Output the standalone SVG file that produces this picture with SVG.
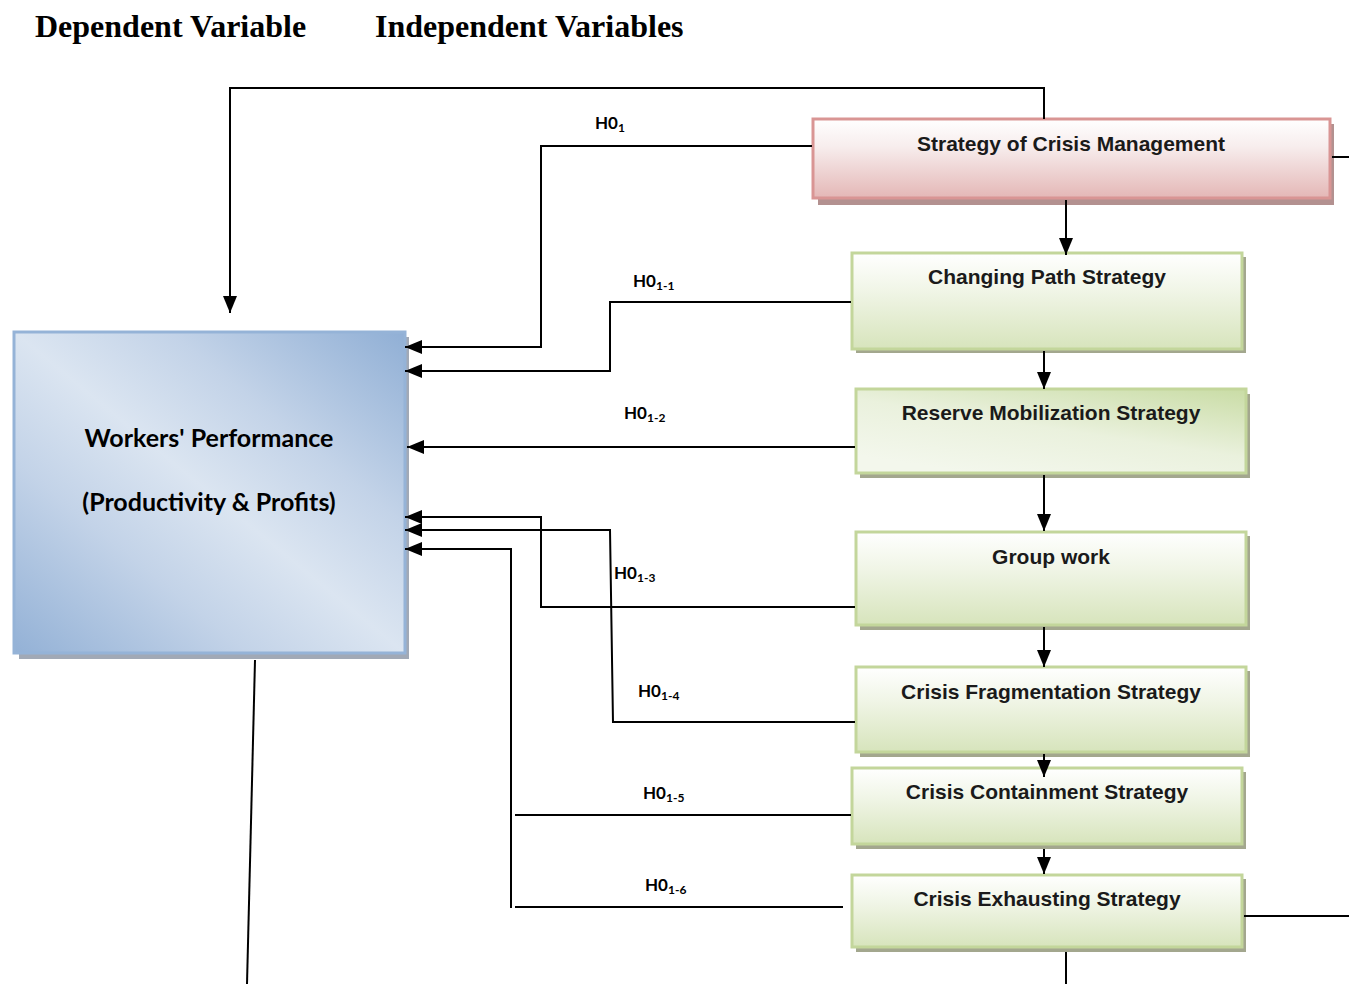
<svg xmlns="http://www.w3.org/2000/svg" width="1349" height="984" viewBox="0 0 1349 984">
<style>
.hdr{font-family:"Liberation Serif","Times New Roman",serif;font-weight:bold;font-size:32px;fill:#000}
.bx{font-family:"Liberation Sans",Arial,sans-serif;font-weight:bold;font-size:21px;fill:#1a1a1a;text-anchor:middle}
.main{font-family:Lato,"Liberation Sans",sans-serif;font-weight:bold;font-size:25px;fill:#000;text-anchor:middle}
.h{font-family:Lato,"Liberation Sans",sans-serif;font-weight:bold;font-size:17px;fill:#000}
.sub{font-size:12px}
.ln{fill:none;stroke:#000;stroke-width:2}
.shadow{fill:#a3a78e}
.gbox{stroke:#c3d69b;stroke-width:3}
</style>
<defs>
<marker id="ah" markerUnits="userSpaceOnUse" markerWidth="18" markerHeight="18" viewBox="0 0 18 18" refX="17" refY="9" orient="auto">
<path d="M0,2 L17,9 L0,16 Z" fill="#000"/>
</marker>
<linearGradient id="gRed" x1="0" y1="0" x2="0" y2="1">
<stop offset="0" stop-color="#ffffff"/>
<stop offset="0.35" stop-color="#f7eded"/>
<stop offset="1" stop-color="#e4b7b6"/>
</linearGradient>
<linearGradient id="gGreen" x1="0" y1="0" x2="0" y2="1">
<stop offset="0" stop-color="#ffffff"/>
<stop offset="0.4" stop-color="#f0f5e6"/>
<stop offset="1" stop-color="#d7e4bc"/>
</linearGradient>
<linearGradient id="gGreen2" x1="1" y1="0" x2="0.3" y2="1">
<stop offset="0" stop-color="#c9dca5"/>
<stop offset="0.55" stop-color="#eaf1dd"/>
<stop offset="1" stop-color="#f3f7ec"/>
</linearGradient>
<linearGradient id="gBlue" x1="0" y1="1" x2="1" y2="0">
<stop offset="0" stop-color="#93b1d6"/>
<stop offset="0.3" stop-color="#c3d3e8"/>
<stop offset="0.5" stop-color="#dbe5f1"/>
<stop offset="0.7" stop-color="#c3d3e8"/>
<stop offset="1" stop-color="#90afd5"/>
</linearGradient>
</defs>
<rect width="1349" height="984" fill="#fff"/>

<text class="hdr" x="35" y="37">Dependent Variable</text>
<text class="hdr" x="375" y="37">Independent Variables</text>

<g id="workers">
<rect x="19" y="337" width="390" height="322" fill="#a1a9b6"/>
<rect x="14" y="332" width="391" height="321" fill="url(#gBlue)" stroke="#95b3d7" stroke-width="3"/>
<text class="main" x="209" y="447">Workers' Performance</text>
<text class="main" x="209" y="511">(Productivity &amp; Profits)</text>
</g>

<g id="strategy">
<rect x="818" y="124" width="516" height="81" fill="#b39190"/>
<rect x="813" y="119" width="517" height="79" fill="url(#gRed)" stroke="#d99594" stroke-width="3"/>
<text class="bx" x="1071" y="151">Strategy of Crisis Management</text>
</g>

<g id="changing">
<rect x="856" y="257" width="390" height="96" class="shadow"/>
<rect x="852" y="253" width="390" height="96" fill="url(#gGreen)" class="gbox"/>
<text class="bx" x="1047" y="284">Changing Path Strategy</text>
</g>

<g id="reserve">
<rect x="860" y="394" width="390" height="84" class="shadow"/>
<rect x="856" y="389" width="390" height="84" fill="url(#gGreen2)" class="gbox"/>
<text class="bx" x="1051" y="420">Reserve Mobilization Strategy</text>
</g>

<g id="group">
<rect x="860" y="536" width="390" height="94" class="shadow"/>
<rect x="856" y="532" width="390" height="93" fill="url(#gGreen)" class="gbox"/>
<text class="bx" x="1051" y="564">Group work</text>
</g>

<g id="fragmentation">
<rect x="860" y="671" width="390" height="86" class="shadow"/>
<rect x="856" y="667" width="390" height="85" fill="url(#gGreen)" class="gbox"/>
<text class="bx" x="1051" y="699">Crisis Fragmentation Strategy</text>
</g>

<g id="containment">
<rect x="856" y="772" width="390" height="77" class="shadow"/>
<rect x="852" y="768" width="390" height="76" fill="url(#gGreen)" class="gbox"/>
<text class="bx" x="1047" y="799">Crisis Containment Strategy</text>
</g>

<g id="exhausting">
<rect x="856" y="879" width="390" height="73" class="shadow"/>
<rect x="852" y="875" width="390" height="72" fill="url(#gGreen)" class="gbox"/>
<text class="bx" x="1047" y="906">Crisis Exhausting Strategy</text>
</g>

<g id="connectors">
<polyline class="ln" points="1044,119 1044,88 230,88 230,313" marker-end="url(#ah)"/>
<line class="ln" x1="1332" y1="157" x2="1349" y2="157"/>
<polyline class="ln" points="812,146 541,146 541,347 405,347" marker-end="url(#ah)"/>
<line class="ln" x1="1066" y1="200" x2="1066" y2="255" marker-end="url(#ah)"/>
<polyline class="ln" points="851,302 610,302 610,371 405,371" marker-end="url(#ah)"/>
<line class="ln" x1="1044" y1="351" x2="1044" y2="389" marker-end="url(#ah)"/>
<line class="ln" x1="855" y1="447" x2="407" y2="447" marker-end="url(#ah)"/>
<line class="ln" x1="1044" y1="475" x2="1044" y2="531" marker-end="url(#ah)"/>
<polyline class="ln" points="855,607 541,607 541,517 405,517" marker-end="url(#ah)"/>
<line class="ln" x1="1044" y1="627" x2="1044" y2="667" marker-end="url(#ah)"/>
<polyline class="ln" points="855,722 613,722 610,530 405,530" marker-end="url(#ah)"/>
<line class="ln" x1="1044" y1="754" x2="1044" y2="777" marker-end="url(#ah)"/>
<polyline class="ln" points="511,908 511,549 405,549" marker-end="url(#ah)"/>
<line class="ln" x1="515" y1="815" x2="851" y2="815"/>
<line class="ln" x1="1044" y1="849" x2="1044" y2="874" marker-end="url(#ah)"/>
<line class="ln" x1="515" y1="907" x2="843" y2="907"/>
<line class="ln" x1="1244" y1="916" x2="1349" y2="916"/>
<line class="ln" x1="1066" y1="952" x2="1066" y2="984"/>
<line class="ln" x1="255" y1="660" x2="247" y2="984"/>
</g>

<g id="labels">
<text class="h" x="595" y="129">H0<tspan class="sub" dy="3">1</tspan></text>
<text class="h" x="633" y="287">H0<tspan class="sub" dy="3">1-1</tspan></text>
<text class="h" x="624" y="419">H0<tspan class="sub" dy="3">1-2</tspan></text>
<text class="h" x="614" y="579">H0<tspan class="sub" dy="3">1-3</tspan></text>
<text class="h" x="638" y="697">H0<tspan class="sub" dy="3">1-4</tspan></text>
<text class="h" x="643" y="799">H0<tspan class="sub" dy="3">1-5</tspan></text>
<text class="h" x="645" y="891">H0<tspan class="sub" dy="3">1-6</tspan></text>
</g>
</svg>
